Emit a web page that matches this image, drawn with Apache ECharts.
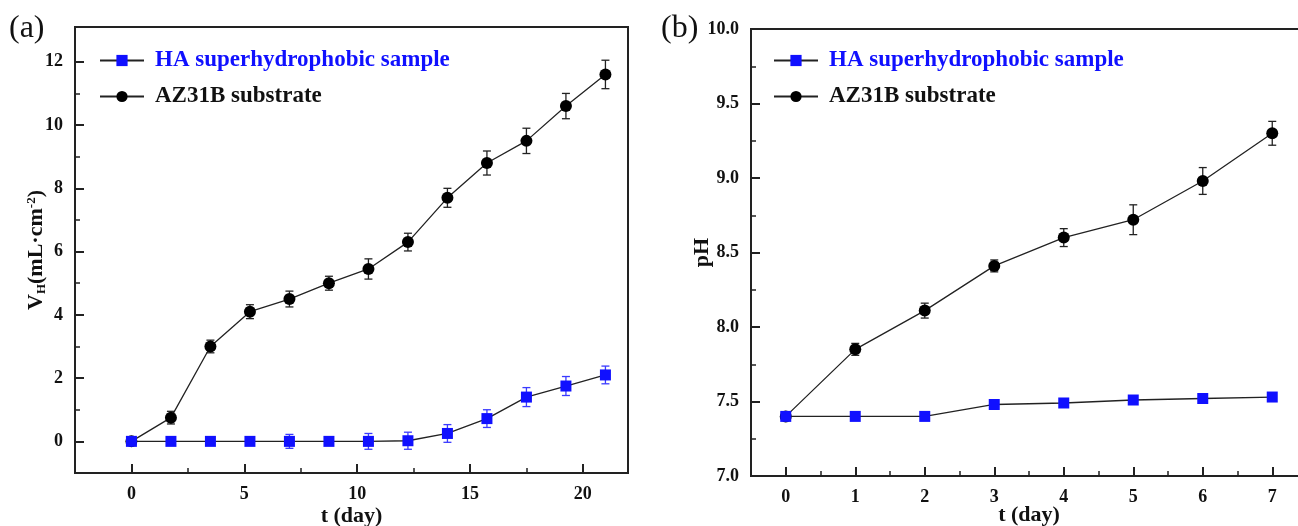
<!DOCTYPE html>
<html>
<head>
<meta charset="utf-8">
<title>Hydrogen evolution and pH of AZ31B vs HA superhydrophobic sample</title>
<script src="https://cdn.jsdelivr.net/npm/echarts@6/dist/echarts.min.js"></script>
<style>
  html, body { margin: 0; padding: 0; background: #fff; }
  #chart { width: 1298px; height: 526px; }
</style>
</head>
<body>
<div id="chart"></div>
<script>
// ---- Panel (a): hydrogen evolution volume, mL·cm^-2 ----
const daysA = [0, 1.75, 3.5, 5.25, 7, 8.75, 10.5, 12.25, 14, 15.75, 17.5, 19.25, 21];
const haVolume    = [0, 0, 0, 0, 0, 0, 0, 0.02, 0.25, 0.72, 1.4, 1.75, 2.1];
const haVolumeErr = [0.1, 0.1, 0.1, 0.1, 0.22, 0.1, 0.25, 0.27, 0.28, 0.28, 0.3, 0.3, 0.28];
const azVolume    = [0, 0.75, 3.0, 4.1, 4.5, 5.0, 5.45, 6.3, 7.7, 8.8, 9.5, 10.6, 11.6];
const azVolumeErr = [0.08, 0.2, 0.2, 0.22, 0.25, 0.22, 0.32, 0.28, 0.3, 0.38, 0.4, 0.4, 0.45];
const ticksXA      = [0, 5, 10, 15, 20];
const minorTicksXA = [2.5, 7.5, 12.5, 17.5];
const ticksYA      = [0, 2, 4, 6, 8, 10, 12];
const minorTicksYA = [1, 3, 5, 7, 9, 11];

// ---- Panel (b): pH of the immersion solution ----
const daysB   = [0, 1, 2, 3, 4, 5, 6, 7];
const haPH    = [7.40, 7.40, 7.40, 7.48, 7.49, 7.51, 7.52, 7.53];
const haPHErr = [0.01, 0.01, 0.01, 0.01, 0.01, 0.01, 0.01, 0.01];
const azPH    = [7.40, 7.85, 8.11, 8.41, 8.60, 8.72, 8.98, 9.30];
const azPHErr = [0.02, 0.04, 0.05, 0.04, 0.06, 0.10, 0.09, 0.08];
const ticksXB      = [0, 1, 2, 3, 4, 5, 6, 7];
const minorTicksXB = [-0.5, 0.5, 1.5, 2.5, 3.5, 4.5, 5.5, 6.5, 7.5];

const HA_NAME = 'HA superhydrophobic sample';
const AZ_NAME = 'AZ31B substrate';
const BLUE = '#1010ff';
const INK = '#111';
const SERIF = '"Liberation Serif", "Times New Roman", serif';

const zip = (xs, ys) => xs.map((x, i) => [x, ys[i]]);
const zip3 = (xs, ys, es) => xs.map((x, i) => [x, ys[i], es[i]]);

// vertical error bar with short caps, placed through the axis scales
function errorBarRenderer(color) {
  return function (params, api) {
    const x = api.value(0), y = api.value(1), e = api.value(2);
    const hi = api.coord([x, y + e]);
    const lo = api.coord([x, y - e]);
    const half = 4;
    const style = { stroke: color, lineWidth: 1.3, fill: null };
    return {
      type: 'group',
      children: [
        { type: 'line', shape: { x1: hi[0], y1: hi[1], x2: lo[0], y2: lo[1] }, style },
        { type: 'line', shape: { x1: hi[0] - half, y1: hi[1], x2: hi[0] + half, y2: hi[1] }, style },
        { type: 'line', shape: { x1: lo[0] - half, y1: lo[1], x2: lo[0] + half, y2: lo[1] }, style }
      ]
    };
  };
}

const tickLabel = { fontFamily: SERIF, fontWeight: 'bold', fontSize: 18, color: INK };
const axisTitle = { fontFamily: SERIF, fontWeight: 'bold', fontSize: 22, color: INK };
const frameLine = { show: true, onZero: false, lineStyle: { color: '#222', width: 2 } };

function mainAxis(extra) {
  return Object.assign({
    type: 'value',
    splitLine: { show: false },
    nameMoveOverlap: false,
    axisLine: frameLine,
    axisTick: { show: true, inside: true, length: 9, lineStyle: { color: '#222', width: 2 } },
    axisLabel: Object.assign({ margin: 12 }, tickLabel)
  }, extra);
}
function minorAxis(extra) {
  return Object.assign({
    type: 'value',
    splitLine: { show: false },
    axisLine: { show: false, onZero: false },
    axisLabel: { show: false },
    axisTick: { show: true, inside: true, length: 5, lineStyle: { color: '#222', width: 1.5 } }
  }, extra);
}

const legendCommon = {
  orient: 'vertical',
  itemWidth: 44,
  itemHeight: 14,
  itemGap: 13,
  selectedMode: false,
  textStyle: { fontFamily: SERIF, fontWeight: 'bold', fontSize: 23, color: INK, padding: [0, 0, 0, 6] },
  data: [
    { name: HA_NAME, textStyle: { color: BLUE } },
    { name: AZ_NAME, textStyle: { color: INK } }
  ]
};

const gridCommon = {
  show: true, borderColor: '#222', borderWidth: 2, backgroundColor: 'transparent',
  containLabel: false, outerBoundsMode: 'none'
};

const option = {
  animation: false,
  backgroundColor: '#fff',
  title: [
    { text: '(a)', left: 4, top: 8, textStyle: { fontFamily: SERIF, fontWeight: 'normal', fontSize: 32, color: INK } },
    { text: '(b)', left: 656, top: 8, textStyle: { fontFamily: SERIF, fontWeight: 'normal', fontSize: 32, color: INK } }
  ],
  legend: [
    Object.assign({ left: 94, top: 44 }, legendCommon),
    Object.assign({ left: 768, top: 44 }, legendCommon)
  ],
  grid: [
    Object.assign({ left: 75, top: 27, width: 553, height: 446 }, gridCommon),
    Object.assign({ left: 751, top: 29, width: 556, height: 447 }, gridCommon)
  ],
  xAxis: [
    mainAxis({
      gridIndex: 0, min: -2.5, max: 22, position: 'bottom',
      axisTick: { show: true, inside: true, length: 9, customValues: ticksXA, lineStyle: { color: '#222', width: 2 } },
      axisLabel: Object.assign({ margin: 12, customValues: ticksXA }, tickLabel),
      name: 't (day)', nameLocation: 'middle', nameGap: 32, nameTextStyle: axisTitle
    }),
    minorAxis({
      gridIndex: 0, min: -2.5, max: 22, position: 'bottom',
      axisTick: { show: true, inside: true, length: 5, customValues: minorTicksXA, lineStyle: { color: '#222', width: 1.5 } }
    }),
    mainAxis({
      gridIndex: 1, min: -0.5, max: 7.5, position: 'bottom',
      axisTick: { show: true, inside: true, length: 9, customValues: ticksXB, lineStyle: { color: '#222', width: 2 } },
      axisLabel: Object.assign({ margin: 12, customValues: ticksXB }, tickLabel),
      name: 't (day)', nameLocation: 'middle', nameGap: 28, nameTextStyle: axisTitle
    }),
    minorAxis({
      gridIndex: 1, min: -0.5, max: 7.5, position: 'bottom',
      axisTick: { show: true, inside: true, length: 5, customValues: minorTicksXB, lineStyle: { color: '#222', width: 1.5 } }
    })
  ],
  yAxis: [
    mainAxis({
      gridIndex: 0, min: -1, max: 13.1, position: 'left',
      axisTick: { show: true, inside: true, length: 9, customValues: ticksYA, lineStyle: { color: '#222', width: 2 } },
      axisLabel: Object.assign({ margin: 12, customValues: ticksYA }, tickLabel),
      name: '{b|V}{sub|H}{b|(mL·cm}{sup|-2}{b|)}',
      nameLocation: 'middle', nameGap: 27, nameRotate: 90,
      nameTextStyle: Object.assign({}, axisTitle, {
        rich: {
          b: { fontFamily: SERIF, fontWeight: 'bold', fontSize: 22, color: INK },
          sub: { fontFamily: SERIF, fontWeight: 'bold', fontSize: 13, color: INK, verticalAlign: 'bottom', padding: [10, 0, 0, 0] },
          sup: { fontFamily: SERIF, fontWeight: 'bold', fontSize: 13, color: INK, verticalAlign: 'top', padding: [0, 0, 10, 0] }
        }
      })
    }),
    minorAxis({
      gridIndex: 0, min: -1, max: 13.1, position: 'left',
      axisTick: { show: true, inside: true, length: 5, customValues: minorTicksYA, lineStyle: { color: '#222', width: 1.5 } }
    }),
    mainAxis({
      gridIndex: 1, min: 7, max: 10, interval: 0.5, position: 'left',
      minorTick: { show: true, splitNumber: 2, length: 5, lineStyle: { color: '#222', width: 1.5 } },
      axisLabel: Object.assign({ margin: 12, formatter: v => v.toFixed(1) }, tickLabel),
      name: 'pH', nameLocation: 'middle', nameGap: 38, nameRotate: 90, nameTextStyle: axisTitle
    })
  ],
  series: [
    // panel (a)
    {
      type: 'custom', name: 'errA-az', xAxisIndex: 0, yAxisIndex: 0, z: 2,
      renderItem: errorBarRenderer('#222'), data: zip3(daysA, azVolume, azVolumeErr), silent: true
    },
    {
      type: 'custom', name: 'errA-ha', xAxisIndex: 0, yAxisIndex: 0, z: 2,
      renderItem: errorBarRenderer('#3a3aff'), data: zip3(daysA, haVolume, haVolumeErr), silent: true
    },
    {
      type: 'line', name: AZ_NAME, xAxisIndex: 0, yAxisIndex: 0, z: 3,
      data: zip(daysA, azVolume), symbol: 'circle', symbolSize: 12,
      lineStyle: { color: '#222', width: 1.3 }, itemStyle: { color: '#000' }
    },
    {
      type: 'line', name: HA_NAME, xAxisIndex: 0, yAxisIndex: 0, z: 4,
      data: zip(daysA, haVolume), symbol: 'rect', symbolSize: 11,
      lineStyle: { color: '#222', width: 1.3 }, itemStyle: { color: BLUE }
    },
    // panel (b)
    {
      type: 'custom', name: 'errB-az', xAxisIndex: 2, yAxisIndex: 2, z: 2,
      renderItem: errorBarRenderer('#222'), data: zip3(daysB, azPH, azPHErr), silent: true
    },
    {
      type: 'custom', name: 'errB-ha', xAxisIndex: 2, yAxisIndex: 2, z: 2,
      renderItem: errorBarRenderer('#3a3aff'), data: zip3(daysB, haPH, haPHErr), silent: true
    },
    {
      type: 'line', name: AZ_NAME, xAxisIndex: 2, yAxisIndex: 2, z: 3,
      data: zip(daysB, azPH), symbol: 'circle', symbolSize: 12,
      lineStyle: { color: '#222', width: 1.3 }, itemStyle: { color: '#000' }
    },
    {
      type: 'line', name: HA_NAME, xAxisIndex: 2, yAxisIndex: 2, z: 4,
      data: zip(daysB, haPH), symbol: 'rect', symbolSize: 11,
      lineStyle: { color: '#222', width: 1.3 }, itemStyle: { color: BLUE }
    }
  ]
};

const chart = echarts.init(document.getElementById('chart'), null, { renderer: 'canvas' });
chart.setOption(option);
</script>
</body>
</html>
